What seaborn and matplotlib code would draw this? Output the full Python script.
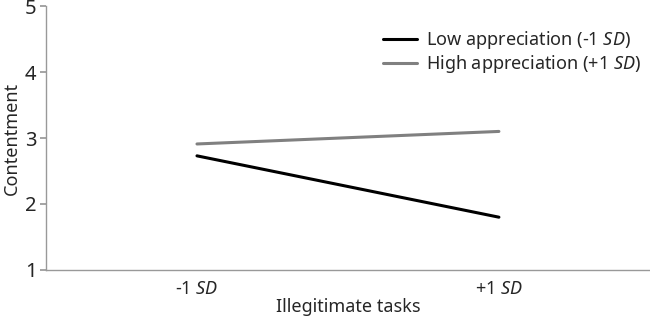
import matplotlib
matplotlib.use("Agg")
import matplotlib.pyplot as plt
import seaborn as sns
import pandas as pd

categories = ["-1 SD", "+1 SD"]
low_values = [2.73, 1.80]
high_values = [2.91, 3.10]
series_names = ["Low appreciation (-1 $SD$)", "High appreciation (+1 $SD$)"]
tick_labels = ["-1 $SD$", "+1 $SD$"]

df = pd.DataFrame({
    "x": [0, 1, 0, 1],
    "y": low_values + high_values,
    "series": [series_names[0]] * 2 + [series_names[1]] * 2,
})

sns.set_theme(style="white")
plt.rcParams["font.family"] = ["Noto Sans", "DejaVu Sans"]
plt.rcParams["mathtext.fontset"] = "custom"
plt.rcParams["mathtext.it"] = "Noto Sans:italic"

fig = plt.figure(figsize=(6.5, 3.21), dpi=100)
ax = fig.add_axes([0.0708, 0.159, 0.929, 0.822])
sns.lineplot(data=df, x="x", y="y", hue="series",
             palette={series_names[0]: "#000000", series_names[1]: "#808080"},
             linewidth=2.2, ax=ax)
ax.set_xlim(-0.5, 1.5)
ax.set_ylim(1, 5)
ax.set_xticks([0, 1])
ax.set_xticklabels(tick_labels, fontsize=13)
ax.set_yticks([1, 2, 3, 4, 5])
ax.tick_params(axis="y", labelsize=14.5, left=True, length=4, color="#999999", pad=3)
ax.tick_params(axis="x", bottom=False, pad=1)
ax.set_xlabel("Illegitimate tasks", fontsize=13, labelpad=0)
ax.set_ylabel("Contentment", fontsize=13, labelpad=3)
for s in ["top", "right"]:
    ax.spines[s].set_visible(False)
for s in ["left", "bottom"]:
    ax.spines[s].set_color("#999999")
    ax.spines[s].set_linewidth(1.0)
leg = ax.legend(loc="upper left", bbox_to_anchor=(0.546, 0.94), frameon=False,
                fontsize=13, handlelength=1.9, handletextpad=0.5,
                labelspacing=0.1, borderaxespad=0)
fig.savefig("out.png", dpi=100)
